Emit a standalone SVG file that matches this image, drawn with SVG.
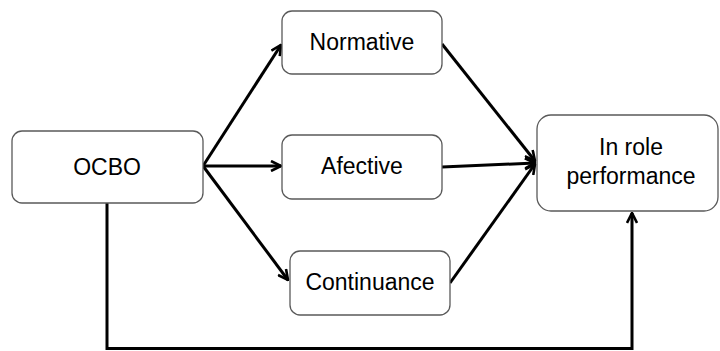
<svg xmlns="http://www.w3.org/2000/svg" width="720" height="351" viewBox="0 0 720 351">
<style>
.box{fill:#fff;stroke:#595959;stroke-width:1.3}
.lbl{font-family:"Liberation Sans",Arial,sans-serif;font-size:23px;fill:#000;text-anchor:middle}
.conn{fill:none;stroke:#000;stroke-width:3;stroke-linejoin:miter}
</style>
<defs>
<marker id="ah" viewBox="0 0 12 12" refX="11" refY="6" markerWidth="12" markerHeight="12" markerUnits="userSpaceOnUse" orient="auto">
<path d="M1,1 L11,6 L1,11" fill="none" stroke="#000" stroke-width="2.6"/>
</marker>
</defs>
<rect width="720" height="351" fill="#fff"/>
<g id="connectors">
<line class="conn" x1="203" y1="166" x2="281" y2="45" marker-end="url(#ah)"/>
<line class="conn" x1="203" y1="166" x2="281" y2="166" marker-end="url(#ah)"/>
<line class="conn" x1="203" y1="166" x2="288" y2="280" marker-end="url(#ah)"/>
<line class="conn" x1="442" y1="44" x2="535" y2="161" marker-end="url(#ah)"/>
<line class="conn" x1="442" y1="167" x2="535" y2="163" marker-end="url(#ah)"/>
<line class="conn" x1="450" y1="283" x2="535" y2="164" marker-end="url(#ah)"/>
<polyline class="conn" points="107,203 107,348.5 632,348.5 632,213" marker-end="url(#ah)"/>
</g>
<g id="OCBO">
<rect class="box" x="12" y="131" width="191" height="72" rx="10"/>
<text class="lbl" x="107" y="175">OCBO</text>
</g>
<g id="Normative">
<rect class="box" x="282" y="11" width="160" height="63" rx="10"/>
<text class="lbl" x="362" y="50">Normative</text>
</g>
<g id="Afective">
<rect class="box" x="282" y="135" width="160" height="64" rx="10"/>
<text class="lbl" x="362" y="174">Afective</text>
</g>
<g id="Continuance">
<rect class="box" x="290" y="251" width="160" height="64" rx="10"/>
<text class="lbl" x="370" y="290">Continuance</text>
</g>
<g id="InRolePerformance">
<rect class="box" x="537" y="115" width="181" height="96" rx="14"/>
<text class="lbl" x="631" y="155">In role</text>
<text class="lbl" x="631" y="184">performance</text>
</g>
</svg>
